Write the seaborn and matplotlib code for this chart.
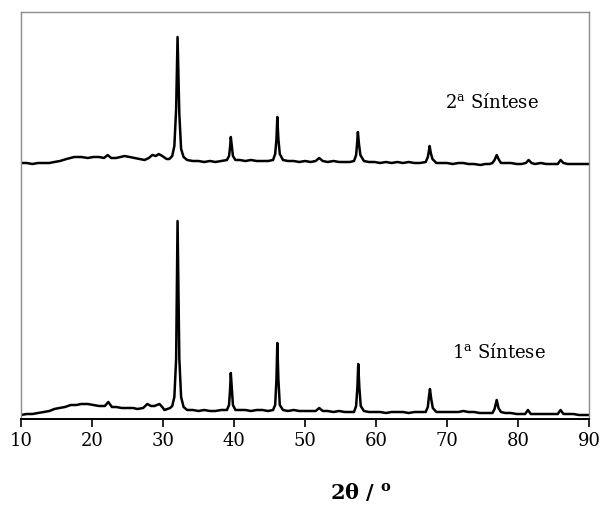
import matplotlib
matplotlib.use("Agg")
import matplotlib.pyplot as plt
import seaborn as sns
import pandas as pd

# ---- data (2θ in degrees, intensity in arbitrary units) ----
two_theta_1 = [10.0, 10.8, 11.6, 12.4, 13.2, 14.0, 14.7, 15.4, 16.2, 17.0, 17.8, 18.5,
               19.4, 20.2, 21.0, 21.8, 22.3, 22.8, 23.4, 24.2, 25.0, 25.8, 26.4, 27.2,
               27.8, 28.3, 28.8, 29.5, 29.9, 30.2, 30.6, 31.0, 31.3, 31.6, 31.85, 32.05,
               32.3, 32.55, 32.9, 33.4, 34.2, 35.0, 35.8, 36.6, 37.4, 38.2, 39.0, 39.3,
               39.45, 39.55, 39.7, 39.85, 40.2, 40.8, 41.6, 42.4, 43.2, 44.0, 44.8, 45.5,
               45.8, 45.98, 46.1, 46.25, 46.45, 46.9, 47.6, 48.4, 49.2, 50.0, 50.8, 51.5,
               52.0, 52.5, 53.2, 54.0, 54.8, 55.6, 56.3, 56.9, 57.2, 57.38, 57.5, 57.65,
               57.85, 58.3, 59.0, 59.8, 60.6, 61.4, 62.2, 63.0, 63.8, 64.6, 65.4, 66.2,
               67.0, 67.3, 67.45, 67.6, 67.78, 68.0, 68.5, 69.2, 70.0, 70.8, 71.6, 72.3,
               73.0, 73.8, 74.6, 75.4, 76.0, 76.4, 76.7, 77.0, 77.25, 77.6, 78.2, 79.0,
               79.8, 80.5, 81.0, 81.4, 81.8, 82.4, 83.2, 84.0, 84.8, 85.6, 86.0, 86.4,
               87.0, 87.8, 88.6, 89.4, 90.0]
intensity_1 = [4, 5, 5, 6, 7, 8, 10, 11, 12, 14, 14, 15,
               15, 14, 13, 13, 17, 12, 12, 11, 11, 11, 10, 11,
               15, 13, 13, 15, 12, 9, 10, 11, 13, 22, 60, 198,
               60, 22, 12, 9, 9, 8, 9, 8, 8, 9, 9, 14,
               30, 46, 30, 14, 9, 9, 9, 8, 9, 9, 8, 9,
               14, 40, 76, 40, 14, 9, 8, 9, 8, 8, 8, 8,
               11, 8, 8, 7, 8, 7, 7, 7, 13, 32, 55, 32,
               13, 8, 7, 7, 7, 6, 7, 7, 7, 6, 7, 7,
               7, 12, 22, 30, 20, 11, 7, 7, 7, 7, 7, 8,
               7, 7, 6, 6, 6, 6, 10, 19, 11, 7, 6, 6,
               5, 5, 5, 9, 5, 5, 5, 5, 5, 5, 9, 5,
               5, 5, 4, 4, 4]

two_theta_2 = [10.0, 10.8, 11.6, 12.4, 13.2, 14.0, 14.7, 15.5, 16.4, 17.5, 18.5, 19.4,
               20.2, 21.0, 21.7, 22.2, 22.7, 23.4, 24.0, 24.6, 25.3, 26.0, 26.7, 27.4,
               28.0, 28.5, 29.0, 29.4, 29.9, 30.5, 30.9, 31.3, 31.6, 31.85, 32.05, 32.3,
               32.55, 32.9, 33.4, 34.2, 35.0, 35.8, 36.6, 37.4, 38.2, 39.0, 39.3, 39.45,
               39.55, 39.7, 39.85, 40.2, 40.8, 41.6, 42.4, 43.2, 44.0, 44.8, 45.5, 45.8,
               45.98, 46.1, 46.25, 46.45, 46.9, 47.6, 48.4, 49.2, 50.0, 50.8, 51.5, 52.0,
               52.5, 53.2, 54.0, 54.8, 55.6, 56.3, 56.9, 57.2, 57.33, 57.45, 57.6, 57.8,
               58.3, 59.0, 59.8, 60.6, 61.4, 62.2, 63.0, 63.8, 64.6, 65.4, 66.2, 67.0,
               67.3, 67.45, 67.55, 67.72, 67.95, 68.5, 69.2, 70.0, 70.8, 71.6, 72.3, 73.0,
               73.8, 74.7, 75.4, 76.0, 76.4, 76.7, 77.0, 77.25, 77.6, 78.2, 79.0, 79.8,
               80.5, 81.1, 81.5, 81.9, 82.4, 83.2, 84.0, 84.8, 85.6, 86.0, 86.4, 87.0,
               87.8, 88.6, 89.4, 90.0]
intensity_2 = [256, 256, 255, 256, 256, 256, 257, 258, 260, 262, 262, 261,
               262, 262, 261, 264, 261, 261, 262, 263, 262, 261, 260, 259,
               261, 264, 263, 265, 263, 260, 260, 263, 273, 310, 382, 305,
               270, 262, 259, 258, 258, 257, 258, 257, 258, 259, 263, 272,
               282, 272, 263, 259, 259, 258, 259, 258, 258, 258, 259, 265,
               280, 302, 280, 265, 259, 258, 258, 257, 258, 257, 258, 261,
               258, 257, 258, 257, 257, 257, 258, 264, 275, 287, 275, 264,
               258, 257, 257, 256, 257, 256, 257, 256, 257, 256, 256, 257,
               262, 268, 273, 266, 260, 256, 256, 256, 255, 256, 256, 255,
               255, 254, 255, 255, 256, 259, 264, 260, 256, 256, 256, 255,
               255, 256, 259, 256, 255, 256, 255, 255, 255, 259, 256, 255,
               255, 255, 255, 255]

sample_labels = ["1ª Síntese", "2ª Síntese"]
label_texts = ["1$^{\\mathrm{a}}$ Síntese", "2$^{\\mathrm{a}}$ Síntese"]
label_pos_x = [70.7, 69.7]
label_pos_y = [67, 318]
x_ticks = [10, 20, 30, 40, 50, 60, 70, 80, 90]

df = pd.concat([
    pd.DataFrame({"2theta": two_theta_1, "I": intensity_1, "amostra": sample_labels[0]}),
    pd.DataFrame({"2theta": two_theta_2, "I": intensity_2, "amostra": sample_labels[1]}),
], ignore_index=True)

sns.set_style("white")
plt.rcParams["font.family"] = ["DejaVu Serif"]
plt.rcParams["mathtext.fontset"] = "dejavuserif"
plt.rcParams["text.color"] = "black"
plt.rcParams["xtick.color"] = "black"
plt.rcParams["axes.labelcolor"] = "black"

fig = plt.figure(figsize=(6.0, 5.06), dpi=100)
ax = fig.add_axes([21 / 600, 1 - 420 / 506, 568 / 600, 407 / 506])

sns.lineplot(data=df, x="2theta", y="I", hue="amostra", units="amostra",
             estimator=None, sort=False, palette=["black", "black"],
             linewidth=1.8, legend=False, ax=ax)

ax.set_xlim(10, 90)
ax.set_ylim(0, 407)
ax.set_xticks(x_ticks)
ax.set_yticks([])
ax.tick_params(axis="x", direction="out", length=6, width=1.2, color="black",
               labelcolor="black", labelsize=13, pad=3, bottom=True)
ax.set_ylabel("")
ax.set_xlabel("2θ / $^{\\mathbf{o}}$", fontsize=15, fontweight="bold",
              color="black", va="center")
ax.xaxis.set_label_coords((361 - 21) / 568, -0.178)

for sp in ["top", "left", "right"]:
    ax.spines[sp].set_color("#8c8c8c")
    ax.spines[sp].set_linewidth(1.0)
ax.spines["bottom"].set_color("black")
ax.spines["bottom"].set_linewidth(1.4)

for t, xx, yy in zip(label_texts, label_pos_x, label_pos_y):
    ax.text(xx, yy, t, fontsize=13, ha="left", va="center", color="black")

fig.savefig("out.png", dpi=100)
